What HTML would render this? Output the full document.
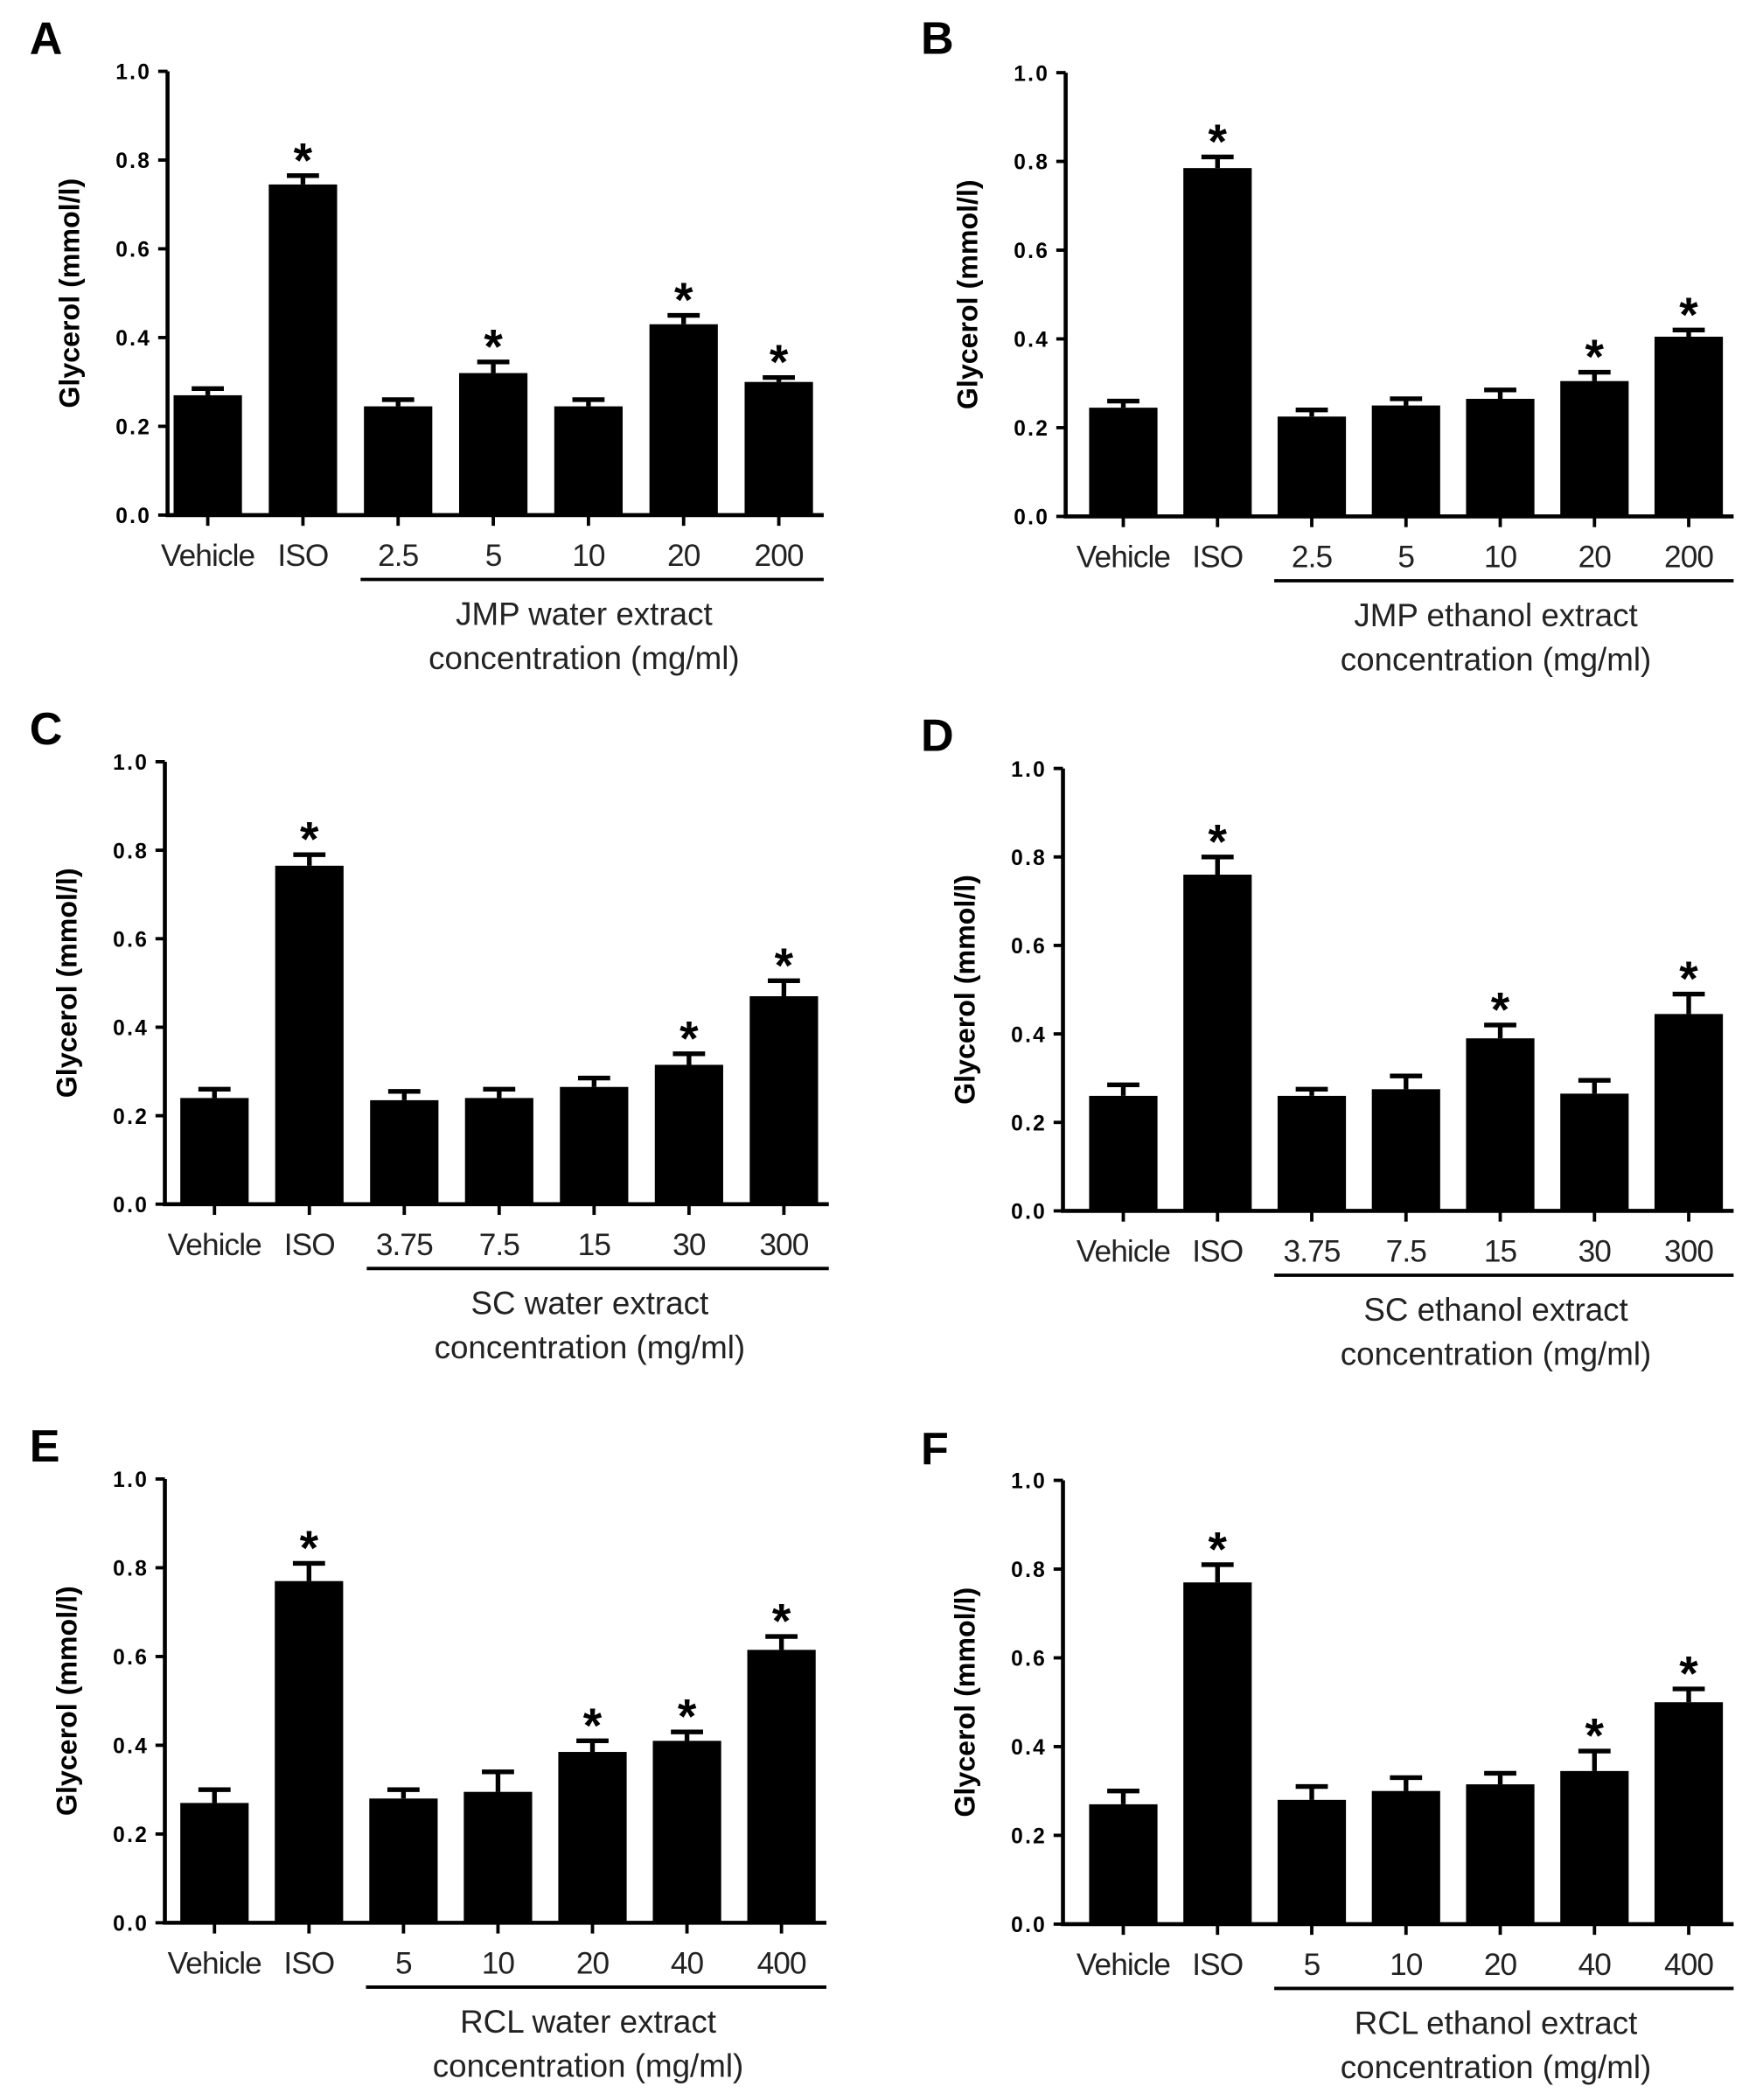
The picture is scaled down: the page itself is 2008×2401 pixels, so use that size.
<!DOCTYPE html>
<html><head><meta charset="utf-8"><style>
html,body{margin:0;padding:0;background:#fff;}
svg{display:block;}
</style></head><body>
<svg id="fig" width="2008" height="2401" viewBox="0 0 1310 1566" xmlns="http://www.w3.org/2000/svg" font-family="'Liberation Sans', sans-serif"></svg>
<script>
// Categories per panel
const catsA = ["Vehicle","ISO","2.5","5","10","20","200"];
const catsB = ["Vehicle","ISO","2.5","5","10","20","200"];
const catsC = ["Vehicle","ISO","3.75","7.5","15","30","300"];
const catsD = ["Vehicle","ISO","3.75","7.5","15","30","300"];
const catsE = ["Vehicle","ISO","5","10","20","40","400"];
const catsF = ["Vehicle","ISO","5","10","20","40","400"];
// Mean values
const valsA = [0.27,0.745,0.245,0.32,0.245,0.43,0.30];
const valsB = [0.245,0.785,0.225,0.25,0.265,0.305,0.405];
const valsC = [0.24,0.765,0.235,0.24,0.265,0.315,0.47];
const valsD = [0.26,0.76,0.26,0.275,0.39,0.265,0.445];
const valsE = [0.27,0.77,0.28,0.295,0.385,0.41,0.615];
const valsF = [0.27,0.77,0.28,0.30,0.315,0.345,0.50];
// Error (SEM)
const errA = [0.015,0.02,0.015,0.025,0.015,0.02,0.01];
const errB = [0.015,0.025,0.015,0.015,0.02,0.02,0.015];
const errC = [0.02,0.025,0.02,0.02,0.02,0.025,0.035];
const errD = [0.025,0.04,0.015,0.03,0.03,0.03,0.045];
const errE = [0.03,0.04,0.02,0.045,0.025,0.02,0.03];
const errF = [0.03,0.04,0.03,0.03,0.025,0.045,0.03];
// Significance flags
const sigA = [0,1,0,1,0,1,1];
const sigB = [0,1,0,0,0,1,1];
const sigC = [0,1,0,0,0,1,1];
const sigD = [0,1,0,0,1,0,1];
const sigE = [0,1,0,0,1,1,1];
const sigF = [0,1,0,0,0,1,1];
const yTicks = [0.0,0.2,0.4,0.6,0.8,1.0];
const titlesL1 = ["JMP water extract","JMP ethanol extract","SC water extract","SC ethanol extract","RCL water extract","RCL ethanol extract"];
const letters = ["A","B","C","D","E","F"];

const layout = [
 {x0:125,top:53,bot:384,step:71,first:155,letter:[22,40]},
 {x0:795,top:54,bot:385,step:70.3,first:838,letter:[687,40]},
 {x0:123,top:568,bot:898,step:70.8,first:160,letter:[22,555]},
 {x0:793,top:573,bot:903,step:70.3,first:838,letter:[687,560]},
 {x0:123,top:1103,bot:1434,step:70.5,first:160,letter:[22,1090]},
 {x0:793,top:1104,bot:1435,step:70.3,first:838,letter:[687,1092]}
];
const allCats=[catsA,catsB,catsC,catsD,catsE,catsF];
const allVals=[valsA,valsB,valsC,valsD,valsE,valsF];
const allErr=[errA,errB,errC,errD,errE,errF];
const allSig=[sigA,sigB,sigC,sigD,sigE,sigF];

const NS="http://www.w3.org/2000/svg";
const svg=document.getElementById('fig');
function mk(tag,attrs,parent,text){const e=document.createElementNS(NS,tag);for(const k in attrs)e.setAttribute(k,attrs[k]);if(text!==undefined)e.textContent=text;(parent||svg).appendChild(e);return e;}

layout.forEach((L,p)=>{
  const g=mk('g',{});
  
  
  const yS=v=>L.bot-(L.bot-L.top)*v;
  const xS=i=>L.first+L.step*i;
  const bw=51;
  const lt=mk('text',{x:L.letter[0],y:L.letter[1],'font-size':34,'font-weight':'bold'},g,letters[p]);
  
  
  const cats=allCats[p],vals=allVals[p],errs=allErr[p],sig=allSig[p];
  const xEnd=xS(cats.length-1)+bw/2+8;
  vals.forEach((v,i)=>{
    const cx=xS(i);
    const r=mk('rect',{x:cx-bw/2,y:yS(v),width:bw,height:yS(0)-yS(v),fill:'#000'},g);
    
    
    const eb=mk('path',{d:`M${cx},${yS(v)} V${yS(v+errs[i])} M${cx-12},${yS(v+errs[i])} H${cx+12}`,stroke:'#000','stroke-width':3.5,fill:'none'},g);
    
    
    if(sig[i]){
      const s=mk('text',{x:cx,y:yS(v+errs[i])+1,'font-size':36,'font-weight':'bold','text-anchor':'middle'},g,'*');
      
      
    }
    mk('line',{x1:cx,y1:L.bot,x2:cx,y2:L.bot+8,stroke:'#000','stroke-width':2.5},g);
    const cl=mk('text',{x:cx,y:L.bot+38,'font-size':23,'text-anchor':'middle',fill:'#222','letter-spacing':'-0.6'},g,cats[i]);
    
    
  });
  const ax=mk('path',{d:`M${L.x0},${L.top} V${L.bot} H${xEnd}`,stroke:'#000','stroke-width':3,fill:'none'},g);
  
  
  yTicks.forEach(t=>{
    mk('line',{x1:L.x0-7,y1:yS(t),x2:L.x0,y2:yS(t),stroke:'#000','stroke-width':2.5},g);
    const tl=mk('text',{x:L.x0-12,y:yS(t)+6,'font-size':16,'font-weight':'bold','text-anchor':'end','letter-spacing':'1.5'},g,t.toFixed(1));
    
    
  });
  const ymid=(L.top+L.bot)/2;
  const yt=mk('text',{x:0,y:0,'font-size':21,'font-weight':'bold','text-anchor':'middle',transform:`translate(${L.x0-66},${ymid}) rotate(-90)`},g,'Glycerol (mmol/l)');
  
  
  const ux0=xS(2)-28, ux1=xEnd;
  const ul=mk('line',{x1:ux0,y1:L.bot+48,x2:ux1,y2:L.bot+48,stroke:'#000','stroke-width':2.5},g);
  
  
  const tcx=(ux0+ux1)/2-6;
  const t1=mk('text',{x:tcx,y:L.bot+82,'font-size':24,'text-anchor':'middle',fill:'#222'},g,titlesL1[p]);
  
  
  const t2=mk('text',{x:tcx,y:L.bot+115,'font-size':24,'text-anchor':'middle',fill:'#222'},g,'concentration (mg/ml)');
  
  
});
</script>
</body></html>
